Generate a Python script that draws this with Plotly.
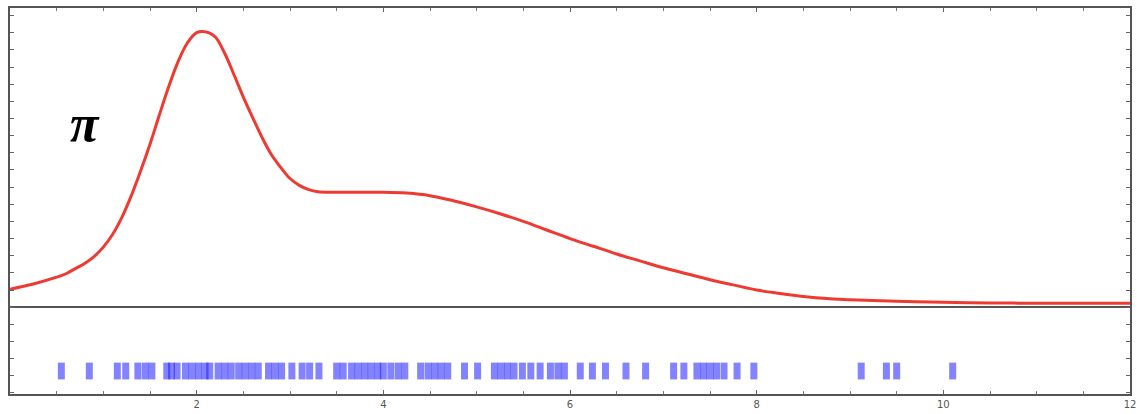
import plotly.graph_objects as go

# Smoothed density estimate (x, density)
density_x = [0.0, 0.25, 0.5, 0.6, 0.7, 0.8, 0.9, 1.0, 1.1, 1.2, 1.3, 1.4, 1.5, 1.6, 1.7,
             1.8, 1.9, 2.0, 2.1, 2.2, 2.3, 2.4, 2.5, 2.6, 2.7, 2.8, 2.9, 3.0, 3.1, 3.2,
             3.3, 3.5, 3.75, 4.0, 4.25, 4.5, 4.75, 5.0, 5.25, 5.5, 5.75, 6.0, 6.25, 6.5,
             6.75, 7.0, 7.25, 7.5, 7.75, 8.0, 8.25, 8.5, 8.75, 9.0, 9.5, 10.0, 10.5,
             11.0, 11.5, 12.0]
density_y = [0.021, 0.027, 0.035, 0.039, 0.045, 0.051, 0.059, 0.070, 0.085, 0.105, 0.130,
             0.159, 0.190, 0.224, 0.257, 0.286, 0.308, 0.320, 0.321, 0.315, 0.296, 0.271,
             0.245, 0.221, 0.198, 0.178, 0.163, 0.150, 0.142, 0.137, 0.1345, 0.134, 0.134,
             0.134, 0.133, 0.130, 0.124, 0.117, 0.109, 0.100, 0.090, 0.080, 0.071, 0.062,
             0.054, 0.046, 0.039, 0.032, 0.026, 0.020, 0.016, 0.0125, 0.010, 0.0088,
             0.007, 0.0057, 0.005, 0.0046, 0.0045, 0.0045]

# Observed sample values shown as a rug below the curve
samples = [0.55, 0.85, 1.15, 1.24, 1.37, 1.45, 1.52, 1.68, 1.73, 1.79, 1.88, 1.95, 2.02,
           2.09, 2.14, 2.23, 2.30, 2.37, 2.45, 2.52, 2.59, 2.66, 2.77, 2.84, 2.91,
           3.02, 3.13, 3.21, 3.31, 3.50, 3.57, 3.66, 3.73, 3.80, 3.87, 3.94, 4.00,
           4.08, 4.16, 4.23, 4.40, 4.48, 4.55, 4.62, 4.69, 4.87, 5.01, 5.19, 5.26,
           5.33, 5.40, 5.49, 5.58, 5.68, 5.79, 5.87, 5.94, 6.11, 6.24, 6.38, 6.60,
           6.81, 7.11, 7.22, 7.36, 7.43, 7.50, 7.57, 7.65, 7.79, 7.97,
           9.12, 9.39, 9.50, 10.10]
rug_level = -0.0744

x_ticks = [2, 4, 6, 8, 10, 12]

fig = go.Figure()

fig.add_trace(go.Scatter(
    x=density_x, y=density_y, mode="lines",
    line=dict(color="rgb(238,58,48)", width=3, shape="spline", smoothing=1.0),
    hoverinfo="skip",
))

fig.add_trace(go.Scatter(
    x=samples, y=[rug_level] * len(samples), mode="markers",
    marker=dict(symbol="line-ns", size=12,
                line=dict(color="rgba(30,30,255,0.55)", width=7)),
    hoverinfo="skip",
))

fig.add_annotation(
    x=0.8, y=0.214, text="<b><i>π</i></b>", showarrow=False,
    font=dict(family="Liberation Serif", size=52, color="black"),
)

axis_common = dict(
    showgrid=False, showline=True, linecolor="#555", linewidth=1.5,
    mirror="ticks", ticks="inside", tickcolor="#666",
)

fig.update_xaxes(
    range=[0, 12], tickvals=x_ticks, ticktext=[str(v) for v in x_ticks],
    ticklen=4, tickwidth=1, zeroline=False, ticklabeloverflow="allow",
    tickfont=dict(family="DejaVu Sans", size=10, color="#555"),
    minor=dict(dtick=0.5, tick0=0, ticks="inside", ticklen=3, tickcolor="#777"),
    **axis_common,
)
fig.update_yaxes(
    range=[-0.1012, 0.3488], dtick=0.02, tick0=0, ticklen=4, tickwidth=1,
    showticklabels=False, zeroline=True, zerolinecolor="#555", zerolinewidth=1.5,
    **axis_common,
)

fig.update_layout(
    width=1140, height=414,
    margin=dict(l=10, r=4, t=8, b=19),
    paper_bgcolor="white", plot_bgcolor="white",
    showlegend=False,
)

fig.write_html("out.html")
